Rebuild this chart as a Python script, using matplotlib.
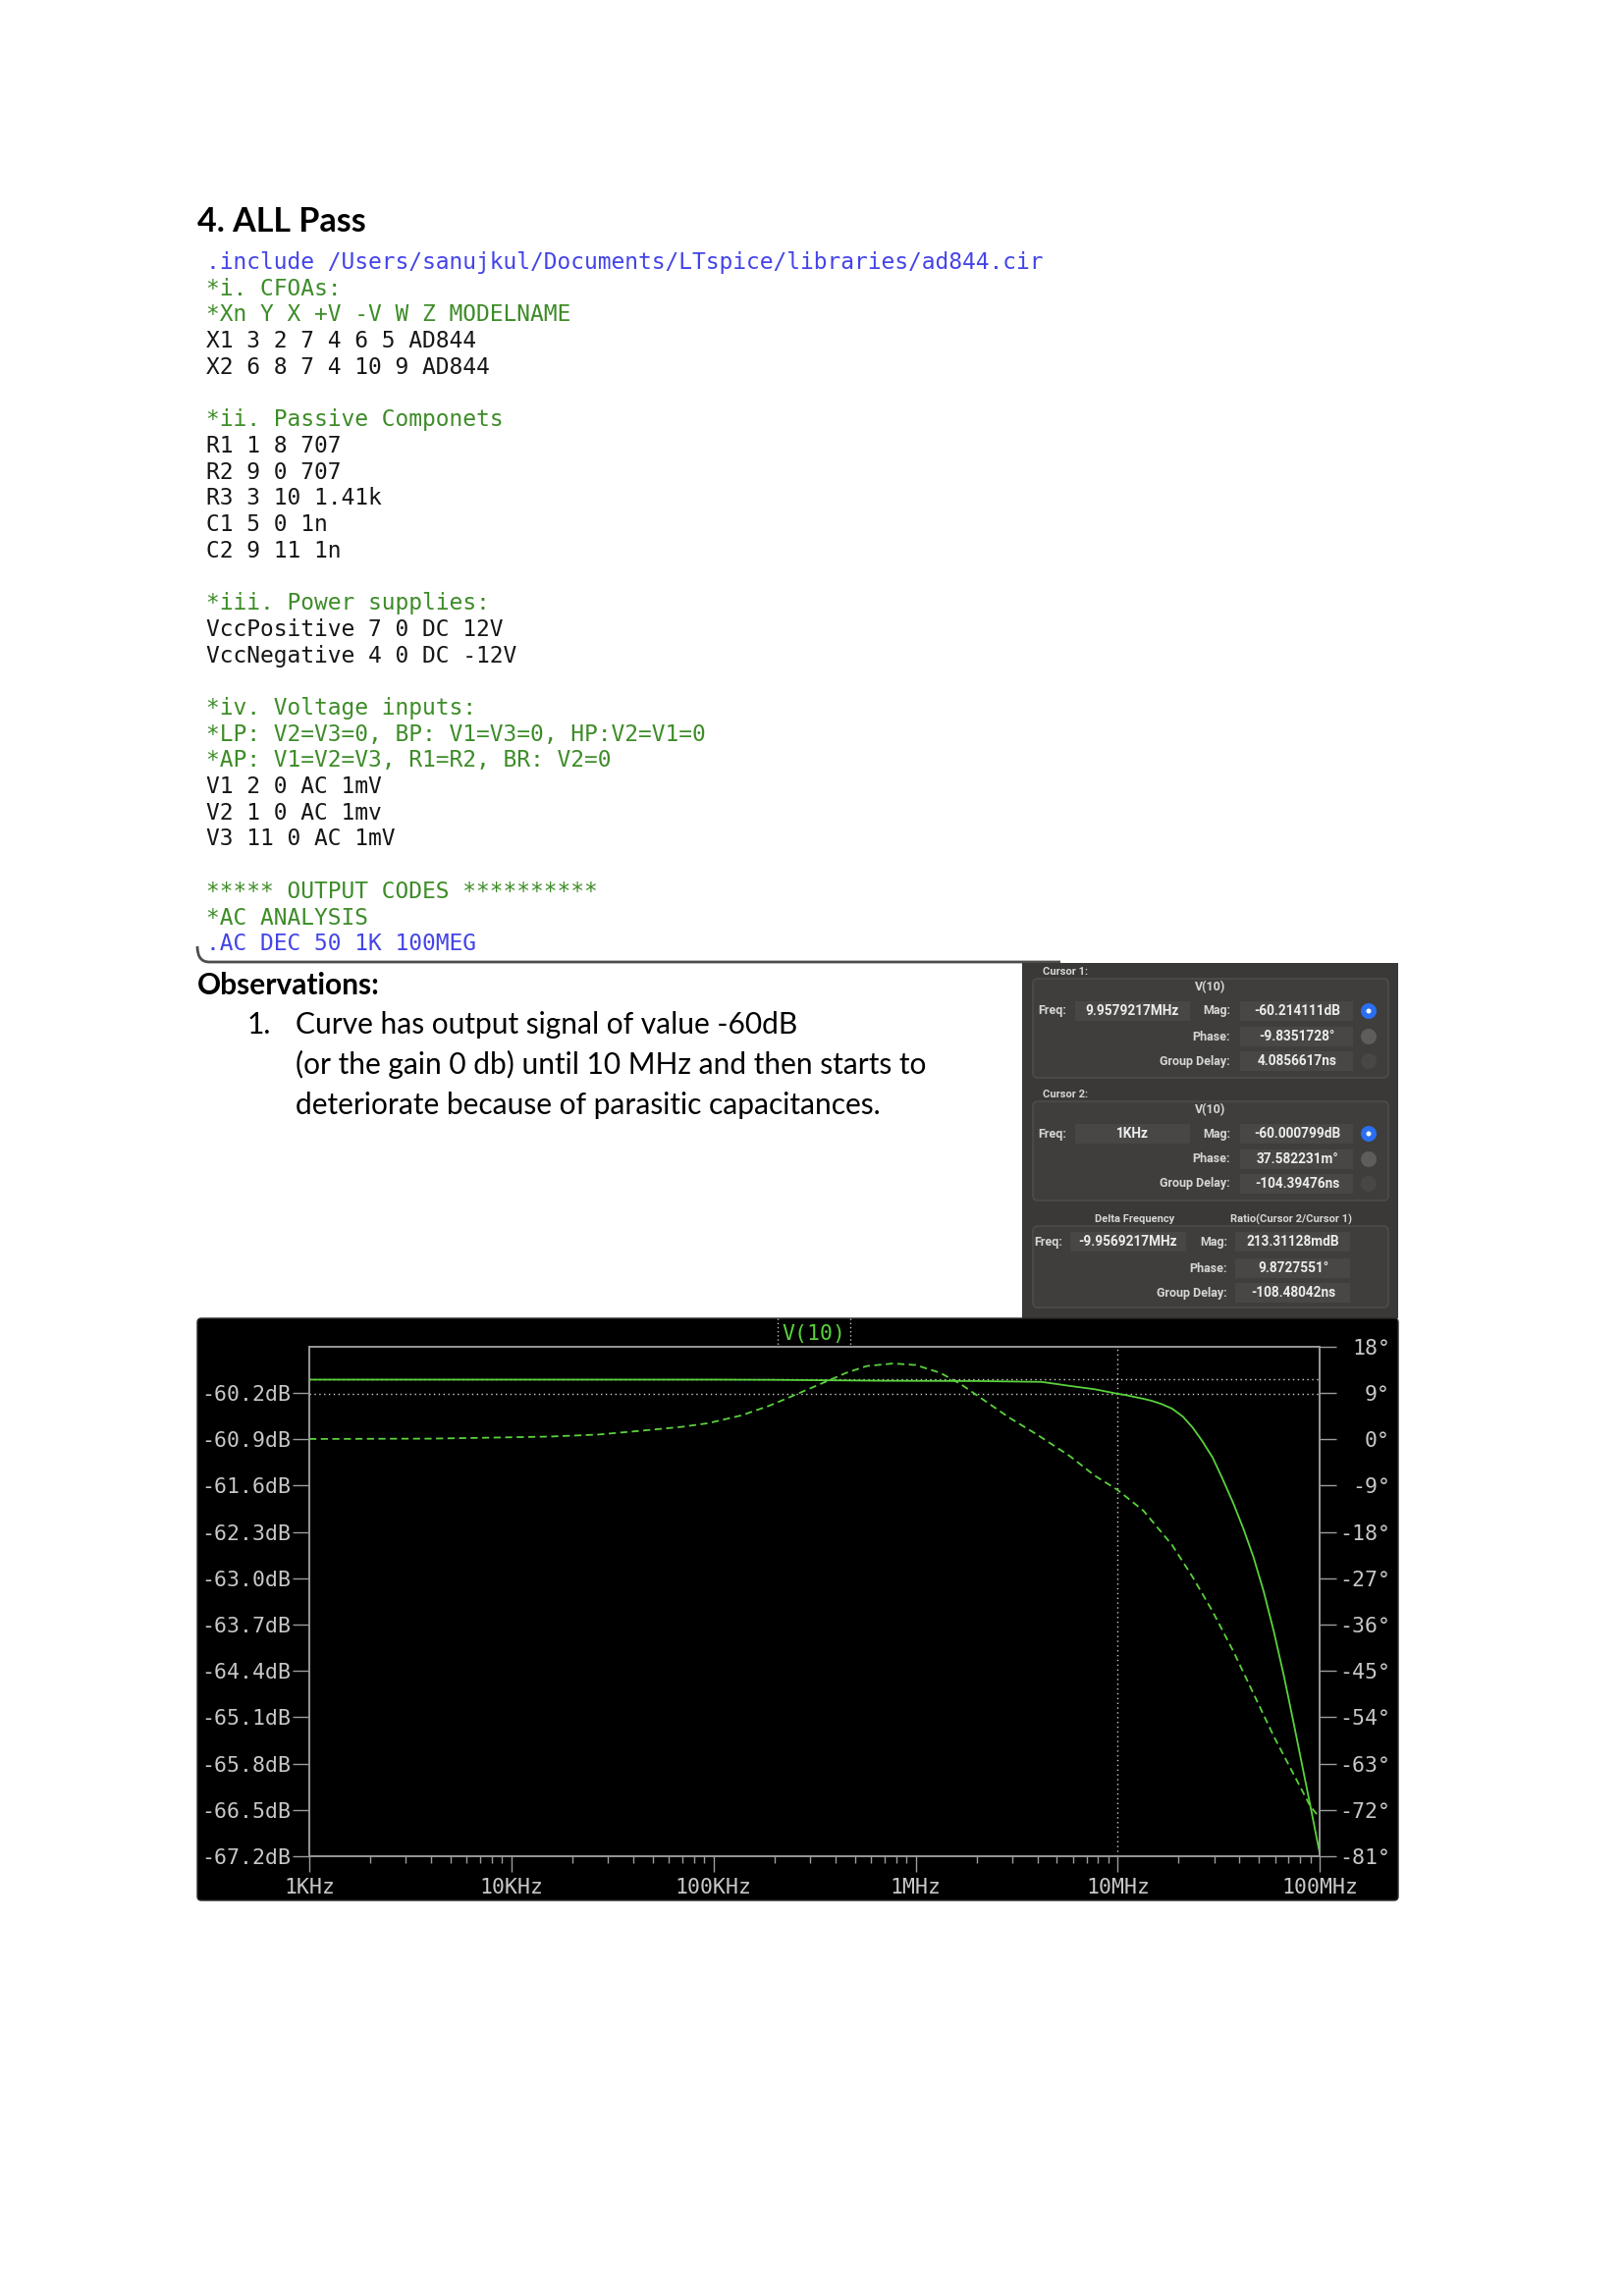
import numpy as np
import matplotlib.pyplot as plt
from matplotlib.patches import Rectangle, FancyBboxPatch, Circle, PathPatch
from matplotlib.path import Path
from matplotlib.ticker import LogLocator, NullFormatter

W, H = 1653, 2339

# --- LTspice AC trace V(10) ---
freq_mag = [1e3, 1e4, 1e5, 2e5, 7e5, 2e6, 4.2e6, 5.8e6, 7.7e6, 9.9579217e6,
            11e6, 12e6, 13.4e6, 14.7e6, 16.5e6, 18.6e6, 21e6, 23.4e6, 26.2e6,
            29.5e6, 33e6, 37.2e6, 41.8e6, 46.9e6, 52.7e6, 59.1e6, 66.4e6,
            74.4e6, 82e6, 89.7e6, 1e8]
mag_db = [-60.000799, -60.0008, -60.001, -60.004, -60.018, -60.022, -60.035,
          -60.096, -60.146, -60.214111, -60.235, -60.26, -60.29, -60.32,
          -60.37, -60.44, -60.56, -60.72, -60.93, -61.18, -61.50, -61.86,
          -62.25, -62.68, -63.20, -63.80, -64.48, -65.21, -65.85, -66.44, -67.17]

freq_ph = [1e3, 4e3, 8.1e3, 15.5e3, 27e3, 42.9e3, 70e3, 94e3, 137e3, 189e3,
           230e3, 286e3, 361e3, 455e3, 573e3, 775e3, 1.0e6, 1.32e6, 1.67e6,
           2.1e6, 2.9e6, 4.0e6, 5.8e6, 7.7e6, 9.9579217e6, 13.4e6, 18.6e6,
           23.4e6, 29.5e6, 37.2e6, 46.9e6, 59.1e6, 74.4e6, 89.7e6, 1e8]
phase_deg = [0.0376, 0.1, 0.3, 0.5, 0.9, 1.6, 2.4, 3.1, 4.6, 6.5,
             7.9, 9.5, 11.2, 12.9, 14.2, 14.7, 14.4, 12.9, 10.7,
             8.0, 4.2, 0.85, -3.3, -7.1, -9.8351728, -13.9, -20.6,
             -26.7, -33.5, -41.1, -49.4, -57.7, -65.2, -71.3, -73.6]

mag_ticks = [-60.2, -60.9, -61.6, -62.3, -63.0, -63.7, -64.4, -65.1, -65.8, -66.5, -67.2]
phase_ticks = [18, 9, 0, -9, -18, -27, -36, -45, -54, -63, -72, -81]
freq_ticks = [1e3, 1e4, 1e5, 1e6, 1e7, 1e8]
freq_labels = ["1KHz", "10KHz", "100KHz", "1MHz", "10MHz", "100MHz"]

cursor1 = {"freq": 9.9579217e6, "mag": -60.214111}
cursor2 = {"freq": 1e3, "mag": -60.000799}

# --- page text ---
code_lines = [
    (".include /Users/sanujkul/Documents/LTspice/libraries/ad844.cir", "dir"),
    ("*i. CFOAs:", "cmt"),
    ("*Xn Y X +V -V W Z MODELNAME", "cmt"),
    ("X1 3 2 7 4 6 5 AD844", "txt"),
    ("X2 6 8 7 4 10 9 AD844", "txt"),
    ("", "txt"),
    ("*ii. Passive Componets", "cmt"),
    ("R1 1 8 707", "txt"),
    ("R2 9 0 707", "txt"),
    ("R3 3 10 1.41k", "txt"),
    ("C1 5 0 1n", "txt"),
    ("C2 9 11 1n", "txt"),
    ("", "txt"),
    ("*iii. Power supplies:", "cmt"),
    ("VccPositive 7 0 DC 12V", "txt"),
    ("VccNegative 4 0 DC -12V", "txt"),
    ("", "txt"),
    ("*iv. Voltage inputs:", "cmt"),
    ("*LP: V2=V3=0, BP: V1=V3=0, HP:V2=V1=0", "cmt"),
    ("*AP: V1=V2=V3, R1=R2, BR: V2=0", "cmt"),
    ("V1 2 0 AC 1mV", "txt"),
    ("V2 1 0 AC 1mv", "txt"),
    ("V3 11 0 AC 1mV", "txt"),
    ("", "txt"),
    ("***** OUTPUT CODES **********", "cmt"),
    ("*AC ANALYSIS", "cmt"),
    (".AC DEC 50 1K 100MEG", "dir"),
]
code_colors = {"dir": "#4444e8", "cmt": "#3d8c28", "txt": "#161616"}

obs_lines = ["Curve has output signal of value -60dB",
             "(or the gain 0 db) until 10 MHz and then starts to",
             "deteriorate because of parasitic capacitances."]

cursor_rows = [
    ("Cursor 1:", "9.9579217MHz", ["-60.214111dB", "-9.8351728\u00b0", "4.0856617ns"]),
    ("Cursor 2:", "1KHz", ["-60.000799dB", "37.582231m\u00b0", "-104.39476ns"]),
]
delta_freq = "-9.9569217MHz"
ratio_vals = ["213.31128mdB", "9.8727551\u00b0", "-108.48042ns"]

fig = plt.figure(figsize=(W / 100, H / 100), dpi=100)
page = fig.add_axes([0, 0, 1, 1])
page.set_xlim(0, W)
page.set_ylim(H, 0)
page.axis("off")

DOC = "Lato"
MONO = "DejaVu Sans Mono"
UI = "Roboto"

page.text(201, 236, "4. ALL Pass", fontsize=24.5, fontweight="bold",
          family=DOC, va="baseline", color="black")

for i, (line, kind) in enumerate(code_lines):
    if line:
        page.text(210, 274 + 26.7 * i, line, fontsize=16.45, family=MONO,
                  color=code_colors[kind], va="baseline")

# bottom edge of the code screenshot
verts = [(201, 964), (201, 980), (213, 980), (1080, 980)]
codes = [Path.MOVETO, Path.CURVE3, Path.CURVE3, Path.LINETO]
page.add_patch(PathPatch(Path(verts, codes), fill=False, edgecolor="#4d4d4d", lw=2))

page.text(201, 1013, "Observations:", fontsize=21.5, fontweight="bold",
          family=DOC, va="baseline", color="black")
page.text(252, 1053, "1.", fontsize=21.5, family=DOC, va="baseline")
for i, line in enumerate(obs_lines):
    page.text(301, 1053 + 41 * i, line, fontsize=21.5, family=DOC, va="baseline")

# --- cursor window ---
page.add_patch(Rectangle((1041, 981), 383, 362, facecolor="#3a3937", edgecolor="none"))
txt_c = "#d6d6d6"
groups_y = [(997, 1098), (1122, 1223)]
for (name, fval, vals), (gy0, gy1) in zip(cursor_rows, groups_y):
    page.text(1062, gy0 - 7, name, fontsize=8, family=UI, color=txt_c, va="center",
              fontweight="bold")
    page.add_patch(FancyBboxPatch((1052, gy0), 362, gy1 - gy0,
                                  boxstyle="round,pad=0,rounding_size=5",
                                  facecolor="#3f3e3c", edgecolor="#504f4d", lw=1))
    page.text(1233, gy0 + 9, "V(10)", fontsize=9, family=UI, color=txt_c,
              ha="center", va="center", fontweight="bold")
    rows_y = [gy0 + 33, gy0 + 59, gy0 + 84]
    page.text(1057, rows_y[0], "Freq:", fontsize=9, family=UI, color=txt_c,
              va="center", fontweight="bold")
    page.add_patch(Rectangle((1095, rows_y[0] - 10), 117, 20, facecolor="#484745",
                             edgecolor="none"))
    page.text(1153, rows_y[0], fval, fontsize=9.8, family=UI, color="#ececec",
              ha="center", va="center", fontweight="bold")
    for j, (lab, v) in enumerate(zip(["Mag:", "Phase:", "Group Delay:"], vals)):
        page.text(1253, rows_y[j], lab, fontsize=9, family=UI, color=txt_c,
                  ha="right", va="center", fontweight="bold")
        page.add_patch(Rectangle((1263, rows_y[j] - 10), 115, 20, facecolor="#484745",
                                 edgecolor="none"))
        page.text(1321, rows_y[j], v, fontsize=9.8, family=UI, color="#ececec",
                  ha="center", va="center", fontweight="bold")
        if j == 0:
            page.add_patch(Circle((1394, rows_y[j]), 8, facecolor="#2a6ff2", edgecolor="none"))
            page.add_patch(Circle((1394, rows_y[j]), 2.5, facecolor="white", edgecolor="none"))
        else:
            page.add_patch(Circle((1394, rows_y[j]), 8,
                                  facecolor="#5e5d5b" if j == 1 else "#484745",
                                  edgecolor="none"))

page.text(1156, 1242, "Delta Frequency", fontsize=8, family=UI, color=txt_c,
          ha="center", va="center", fontweight="bold")
page.text(1315, 1242, "Ratio(Cursor 2/Cursor 1)", fontsize=8, family=UI, color=txt_c,
          ha="center", va="center", fontweight="bold")
page.add_patch(FancyBboxPatch((1052, 1249), 362, 83,
                              boxstyle="round,pad=0,rounding_size=5",
                              facecolor="#3f3e3c", edgecolor="#504f4d", lw=1))
rows_y = [1265, 1292, 1317]
page.text(1053, rows_y[0], "Freq:", fontsize=9, family=UI, color=txt_c,
          va="center", fontweight="bold")
page.add_patch(Rectangle((1090, rows_y[0] - 10), 118, 20, facecolor="#484745", edgecolor="none"))
page.text(1149, rows_y[0], delta_freq, fontsize=9.8, family=UI, color="#ececec",
          ha="center", va="center", fontweight="bold")
for j, (lab, v) in enumerate(zip(["Mag:", "Phase:", "Group Delay:"], ratio_vals)):
    page.text(1250, rows_y[j], lab, fontsize=9, family=UI, color=txt_c,
              ha="right", va="center", fontweight="bold")
    page.add_patch(Rectangle((1258, rows_y[j] - 10), 117, 20, facecolor="#484745",
                             edgecolor="none"))
    page.text(1317, rows_y[j], v, fontsize=9.8, family=UI, color="#ececec",
              ha="center", va="center", fontweight="bold")

# --- LTspice plot window ---
page.add_patch(FancyBboxPatch((201, 1343), 1223, 593,
                              boxstyle="round,pad=0,rounding_size=4",
                              facecolor="black", edgecolor="#2a2a2a", lw=1))

green = "#5ad23c"
axis_c = "#9c9c9c"
lab_c = "#c8c8c8"

x0, x1, y0, y1 = 315, 1344.3, 1371.7, 1891
ax = fig.add_axes([x0 / W, 1 - y1 / H, (x1 - x0) / W, (y1 - y0) / H])
ax.patch.set_alpha(0)
ax.set_xscale("log")
ax.set_xlim(1e3, 1e8)
ax.set_ylim(-67.2, -59.5)

ax2 = ax.twinx()
ax2.set_ylim(-81, 18)
ax2.patch.set_alpha(0)

for a in (ax, ax2):
    for s in a.spines.values():
        s.set_color(axis_c)
        s.set_linewidth(1.1)

ax.set_xticks(freq_ticks)
ax.set_xticklabels(freq_labels)
ax.xaxis.set_minor_locator(LogLocator(base=10, subs=np.arange(2, 10)))
ax.xaxis.set_minor_formatter(NullFormatter())
ax.tick_params(axis="x", which="major", direction="out", length=11.5, width=1,
               color=axis_c, labelcolor=lab_c, labelsize=15.5, pad=4.5)
ax.tick_params(axis="x", which="minor", direction="out", length=5, width=1, color=axis_c)
for lab in ax.get_xticklabels():
    lab.set_family(MONO)

ax.set_yticks(mag_ticks)
ax.set_yticklabels([f"{v:.1f}dB" for v in mag_ticks], family=MONO)
ax.tick_params(axis="y", direction="out", length=12.2, width=1, color=axis_c,
               labelcolor=lab_c, labelsize=15.5, pad=1.5)

ax2.set_yticks(phase_ticks)
ax2.set_yticklabels([f"{v}\u00b0" for v in phase_ticks], family=MONO, ha="right")
ax2.tick_params(axis="y", direction="out", length=12.2, width=1, color=axis_c,
                labelcolor=lab_c, labelsize=15.5, pad=39.5)

# cursors
cur_kw = dict(color="#cfcfcf", lw=1, linestyle=(0, (1, 2.5)), zorder=1)
ax.axvline(cursor1["freq"], **cur_kw)
ax.axhline(cursor1["mag"], **cur_kw)
ax.axhline(cursor2["mag"], **cur_kw)

ax.plot(freq_mag, mag_db, color=green, lw=1.3, zorder=3)
ax2.plot(freq_ph, phase_deg, color=green, lw=1.3, dashes=(4, 2.5), zorder=3)

# trace label
page.text(829, 1359, "V(10)", fontsize=15.5, family=MONO, color=green,
          ha="center", va="center")
for lx in (792, 866):
    page.plot([lx, lx], [1343, 1371], color="#bdbdbd", lw=1, linestyle=(0, (1, 2)))

fig.savefig("out.png", dpi=100, facecolor="white")
